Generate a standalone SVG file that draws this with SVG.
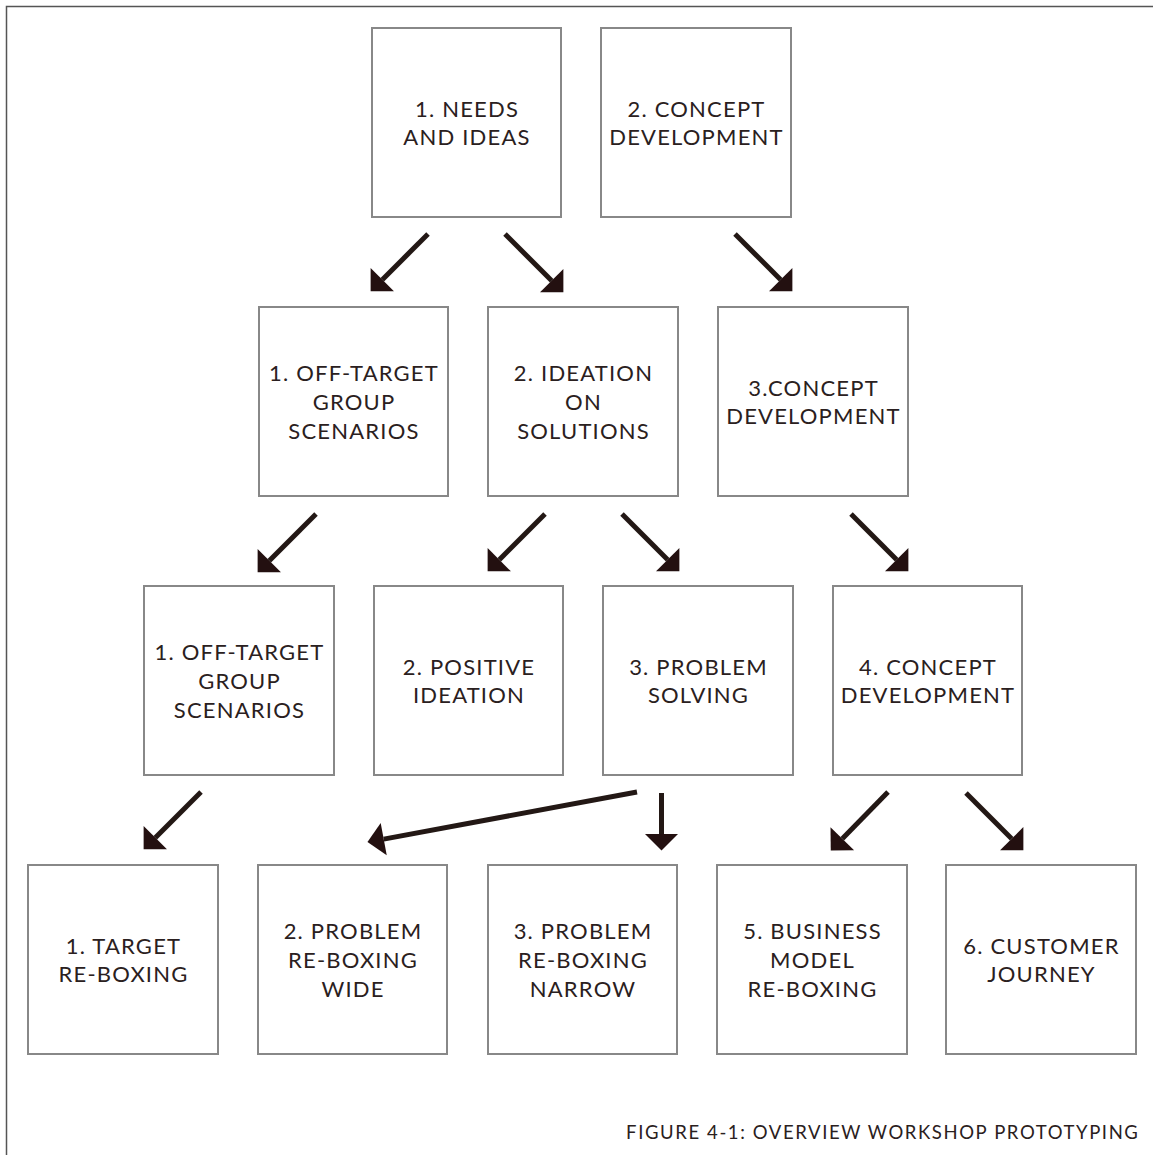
<svg xmlns="http://www.w3.org/2000/svg" width="1153" height="1155" viewBox="0 0 1153 1155">
<style>
.frame{fill:none;stroke:#555;stroke-width:1.5}
.box{fill:#fff;stroke:#888;stroke-width:2}
.t{font-family:"Lato","Open Sans","Liberation Sans",sans-serif;font-size:22px;letter-spacing:1.2px;fill:#2a2020;text-anchor:middle}
.cap{font-family:"Lato","Open Sans","Liberation Sans",sans-serif;font-size:18.5px;letter-spacing:1.6px;fill:#2a2020;text-anchor:end}
.arr{stroke:#231815;stroke-width:5;fill:none;marker-end:url(#ah)}
</style>
<defs>
<marker id="ah" markerUnits="userSpaceOnUse" markerWidth="17" markerHeight="33" viewBox="0 0 16 32" refX="0" refY="16" orient="auto" overflow="visible">
<path d="M0,0 L16,16 L0,32 Z" fill="#231010"/>
</marker>
</defs>
<rect width="1153" height="1155" fill="#fff"/>
<path class="frame" d="M6.5,1155 V6.5 H1153"/>

<g id="n1"><rect class="box" x="372" y="28" width="189" height="189"/><text class="t"><tspan x="467" y="116.5">1. NEEDS</tspan><tspan x="467" y="145">AND IDEAS</tspan></text></g>
<g id="n2"><rect class="box" x="601" y="28" width="190" height="189"/><text class="t"><tspan x="696.5" y="116.5">2. CONCEPT</tspan><tspan x="696.5" y="145">DEVELOPMENT</tspan></text></g>

<g id="n3"><rect class="box" x="259" y="307" width="189" height="189"/><text class="t"><tspan x="354" y="381">1. OFF-TARGET</tspan><tspan x="354" y="410">GROUP</tspan><tspan x="354" y="439">SCENARIOS</tspan></text></g>
<g id="n4"><rect class="box" x="488" y="307" width="190" height="189"/><text class="t"><tspan x="583.5" y="381">2. IDEATION</tspan><tspan x="583.5" y="410">ON</tspan><tspan x="583.5" y="439">SOLUTIONS</tspan></text></g>
<g id="n5"><rect class="box" x="718" y="307" width="190" height="189"/><text class="t"><tspan x="813.5" y="395.5">3.CONCEPT</tspan><tspan x="813.5" y="424">DEVELOPMENT</tspan></text></g>

<g id="n6"><rect class="box" x="144" y="586" width="190" height="189"/><text class="t"><tspan x="239.5" y="660">1. OFF-TARGET</tspan><tspan x="239.5" y="689">GROUP</tspan><tspan x="239.5" y="718">SCENARIOS</tspan></text></g>
<g id="n7"><rect class="box" x="374" y="586" width="189" height="189"/><text class="t"><tspan x="469" y="674.5">2. POSITIVE</tspan><tspan x="469" y="703">IDEATION</tspan></text></g>
<g id="n8"><rect class="box" x="603" y="586" width="190" height="189"/><text class="t"><tspan x="698.5" y="674.5">3. PROBLEM</tspan><tspan x="698.5" y="703">SOLVING</tspan></text></g>
<g id="n9"><rect class="box" x="833" y="586" width="189" height="189"/><text class="t"><tspan x="928" y="674.5">4. CONCEPT</tspan><tspan x="928" y="703">DEVELOPMENT</tspan></text></g>

<g id="n10"><rect class="box" x="28" y="865" width="190" height="189"/><text class="t"><tspan x="123.5" y="953.5">1. TARGET</tspan><tspan x="123.5" y="982">RE-BOXING</tspan></text></g>
<g id="n11"><rect class="box" x="258" y="865" width="189" height="189"/><text class="t"><tspan x="353" y="939">2. PROBLEM</tspan><tspan x="353" y="968">RE-BOXING</tspan><tspan x="353" y="997">WIDE</tspan></text></g>
<g id="n12"><rect class="box" x="488" y="865" width="189" height="189"/><text class="t"><tspan x="583" y="939">3. PROBLEM</tspan><tspan x="583" y="968">RE-BOXING</tspan><tspan x="583" y="997">NARROW</tspan></text></g>
<g id="n13"><rect class="box" x="717" y="865" width="190" height="189"/><text class="t"><tspan x="812.5" y="939">5. BUSINESS</tspan><tspan x="812.5" y="968">MODEL</tspan><tspan x="812.5" y="997">RE-BOXING</tspan></text></g>
<g id="n14"><rect class="box" x="946" y="865" width="190" height="189"/><text class="t"><tspan x="1041.5" y="953.5">6. CUSTOMER</tspan><tspan x="1041.5" y="982">JOURNEY</tspan></text></g>

<g id="connectors">
<line class="arr" x1="428" y1="234" x2="382.3" y2="279.7"/>
<line class="arr" x1="505" y1="234" x2="551.7" y2="280.7"/>
<line class="arr" x1="735" y1="234" x2="780.7" y2="279.7"/>
<line class="arr" x1="316" y1="514" x2="269.3" y2="560.7"/>
<line class="arr" x1="545" y1="514" x2="499.3" y2="559.7"/>
<line class="arr" x1="622" y1="514" x2="667.7" y2="559.7"/>
<line class="arr" x1="851" y1="514" x2="896.7" y2="559.7"/>
<line class="arr" x1="201" y1="792" x2="155.3" y2="837.7"/>
<line class="arr" x1="637" y1="792" x2="383.7" y2="839.1"/>
<line class="arr" x1="661.5" y1="793" x2="661.5" y2="834"/>
<line class="arr" x1="888" y1="792" x2="842.3" y2="838.7"/>
<line class="arr" x1="966" y1="793" x2="1011.7" y2="838.7"/>
</g>

<text class="cap" x="1139.5" y="1139">FIGURE 4-1: OVERVIEW WORKSHOP PROTOTYPING</text>
</svg>
